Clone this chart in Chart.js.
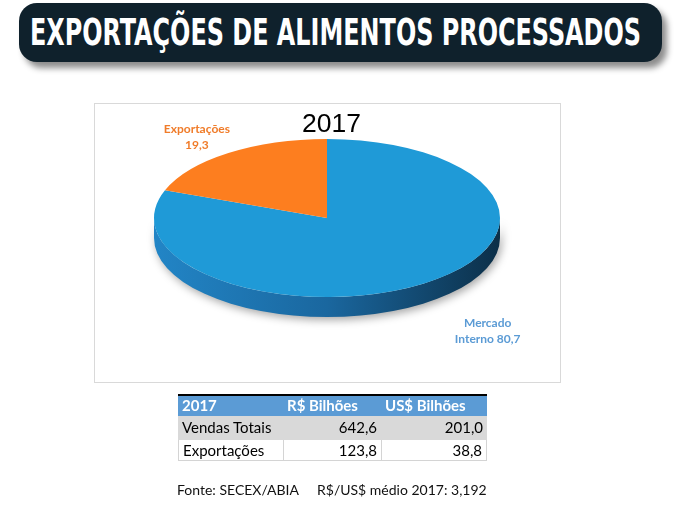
<!DOCTYPE html>
<html><head><meta charset="utf-8">
<script src="https://cdn.jsdelivr.net/npm/chart.js@4/dist/chart.umd.min.js"></script>
<style>
html,body{margin:0;padding:0;background:#fff;width:681px;height:507px;overflow:hidden;}
body{position:relative;font-family:Lato,"Open Sans",sans-serif;}
#hdr{position:absolute;left:19px;top:3px;width:643px;height:59px;background:#0f212c;border-radius:18px;box-shadow:5px 6px 6px rgba(0,0,0,0.45);}
#hdrText{position:absolute;left:30px;top:13px;color:#fff;font-weight:bold;font-size:38px;font-family:"DejaVu Sans Condensed","DejaVu Sans",sans-serif;white-space:nowrap;transform-origin:0 0;line-height:38px;}
#frame{position:absolute;left:94px;top:103px;width:465px;height:278px;border:1px solid #d9d9d9;}
#year{position:absolute;left:0;width:663px;top:108px;text-align:center;font-family:"Liberation Sans",Arial,sans-serif;font-size:26.5px;color:#000;line-height:30px;}
#c{position:absolute;left:0;top:0;}
.cell{position:absolute;box-sizing:border-box;font-size:15px;line-height:22px;white-space:nowrap;padding:0 4px;}
#foot{position:absolute;top:481px;left:0;font-size:14px;line-height:18px;color:#111;white-space:nowrap;font-family:Lato,"Open Sans",sans-serif;}
</style></head>
<body>
<div id="hdr"></div>
<div id="hdrText">EXPORTAÇÕES DE ALIMENTOS PROCESSADOS</div>
<div id="frame"></div>
<canvas id="c" width="681" height="507"></canvas>
<div id="year">2017</div>
<div id="tbl"></div>
<div id="foot"></div>
<script>
// ---- data ----
const categories = ["Mercado Interno", "Exportações"];
const shares = [80.7, 19.3];
const chartTitle = "2017";
const tableHeader = ["2017", "R$ Bilhões", "US$ Bilhões"];
const tableRows = ["Vendas Totais", "Exportações"];
const brlValues = [642.6, 123.8];
const usdValues = [201.0, 38.8];
const sourceText = "Fonte: SECEX/ABIA";
const rateText = "R$/US$ médio 2017: 3,192";

// ---- styles ----
const sliceColors = ["#1f9ad7", "#fd7e1f"];
const sideColors = [["#2285c6", "#1a679f", "#0c2f48"], ["#e06a10", "#b8540a", "#7a3505"]];
const labelColors = ["#5b9bd5", "#f07c2a"];
const labelFactors = [[1.63, 1.74], [1.32, 1.25]];
const K = 79 / 173;
const DEPTH = 20;

const fmt = v => v.toFixed(1).replace('.', ',');

document.getElementById('year').textContent = chartTitle;

// header text fit
const ht = document.getElementById('hdrText');
const w = ht.getBoundingClientRect().width;
ht.style.transform = 'scaleX(' + (611 / w) + ')';

// table
const tbl = document.getElementById('tbl');
const colX = [178, 283, 381, 487];
function cell(txt, x0, x1, y0, y1, st) {
  const d = document.createElement('div');
  d.className = 'cell';
  d.textContent = txt;
  d.style.left = x0 + 'px'; d.style.width = (x1 - x0) + 'px';
  d.style.top = y0 + 'px'; d.style.height = (y1 - y0) + 'px';
  Object.assign(d.style, st || {});
  tbl.appendChild(d);
}
const hb = document.createElement('div');
Object.assign(hb.style, {position:'absolute', left:colX[0]+'px', width:(colX[3]-colX[0])+'px', top:'394px', height:'22px', background:'#5b9bd5', borderTop:'2px solid #000', boxSizing:'border-box'});
tbl.appendChild(hb);
tableHeader.forEach((h, i) => cell(h, colX[i], colX[i+1], 395, 416, {color:'#fff', fontWeight:'bold', lineHeight:'21px'}));
const rowY = [416, 440, 461];
tableRows.forEach((r, ri) => {
  const bg = ri === 0 ? '#d9d9d9' : '#fff';
  const bd = ri === 0 ? 'none' : '1px solid #d4d4d4';
  const vals = [r, fmt(brlValues[ri]), fmt(usdValues[ri])];
  vals.forEach((v, ci) => cell(v, colX[ci], colX[ci+1], rowY[ri], rowY[ri+1], {
    background:bg, textAlign: ci === 0 ? 'left' : 'right', color:'#000',
    borderLeft: ri === 0 ? 'none' : (ci === 0 ? '1px solid #d4d4d4' : bd),
    borderRight: ri === 0 ? 'none' : (ci === 2 ? '1px solid #d4d4d4' : 'none'),
    borderBottom: bd, lineHeight: (rowY[ri+1]-rowY[ri]-1) + 'px'
  }));
});
const foot = document.getElementById('foot');
foot.innerHTML = '<span style="position:absolute;left:177px">' + sourceText + '</span><span style="position:absolute;left:317px">' + rateText + '</span>';

function wrap(ctx, text, maxW) {
  const words = text.split(' ');
  const lines = [];
  let cur = '';
  words.forEach(wd => {
    const t = cur ? cur + ' ' + wd : wd;
    if (cur && ctx.measureText(t).width > maxW) { lines.push(cur); cur = wd; } else cur = t;
  });
  if (cur) lines.push(cur);
  return lines;
}

const pie3d = {
  id: 'pie3d',
  beforeDatasetsDraw(chart) {
    const ctx = chart.ctx;
    const meta = chart.getDatasetMeta(0);
    const a = meta.data[0];
    const cx = a.x, cy = a.y, r = a.outerRadius, ry = r * K;
    meta.data.forEach((arc, i) => {
      for (let k = -1; k <= 1; k++) {
        const lo = 2 * Math.PI * k, hi = lo + Math.PI;
        const s = Math.max(arc.startAngle, lo), e = Math.min(arc.endAngle, hi);
        if (e <= s) continue;
        ctx.save();
        const g = ctx.createLinearGradient(cx - r, 0, cx + r, 0);
        g.addColorStop(0, sideColors[i][0]);
        g.addColorStop(0.5, sideColors[i][1]);
        g.addColorStop(1, sideColors[i][2]);
        ctx.fillStyle = g;
        ctx.shadowColor = 'rgba(0,0,0,0.35)';
        ctx.shadowBlur = 8; ctx.shadowOffsetY = 3; ctx.shadowOffsetX = 2;
        ctx.beginPath();
        ctx.ellipse(cx, cy, r, ry, 0, s, e, false);
        ctx.lineTo(cx + r * Math.cos(e), cy + ry * Math.sin(e) + DEPTH);
        ctx.ellipse(cx, cy + DEPTH, r, ry, 0, e, s, true);
        ctx.closePath();
        ctx.fill();
        ctx.restore();
      }
    });
    ctx.save();
    ctx.translate(cx, cy); ctx.scale(1, K); ctx.translate(-cx, -cy);
  },
  afterDatasetsDraw(chart) {
    const ctx = chart.ctx;
    ctx.restore();
    const meta = chart.getDatasetMeta(0);
    ctx.save();
    ctx.font = 'bold 12px Lato, "Open Sans", sans-serif';
    ctx.textAlign = 'center'; ctx.textBaseline = 'middle';
    meta.data.forEach((arc, i) => {
      const mid = (arc.startAngle + arc.endAngle) / 2;
      const x = arc.x + Math.cos(mid) * arc.outerRadius * labelFactors[i][0];
      const y = arc.y + Math.sin(mid) * arc.outerRadius * K * labelFactors[i][1];
      const lines = wrap(ctx, categories[i] + ' ' + fmt(shares[i]), 80);
      ctx.fillStyle = labelColors[i];
      const lh = 16;
      lines.forEach((ln, j) => ctx.fillText(ln, x, y + (j - (lines.length - 1) / 2) * lh));
    });
    ctx.restore();
  }
};

new Chart(document.getElementById('c'), {
  type: 'pie',
  data: { labels: categories, datasets: [{ data: shares, backgroundColor: sliceColors, borderWidth: 0 }] },
  options: {
    responsive: false, animation: false, events: [],
    layout: { padding: { left: 154, right: 181, top: 45, bottom: 116 } },
    plugins: { legend: { display: false }, tooltip: { enabled: false }, title: { display: false } }
  },
  plugins: [pie3d]
});
</script>
</body></html>
